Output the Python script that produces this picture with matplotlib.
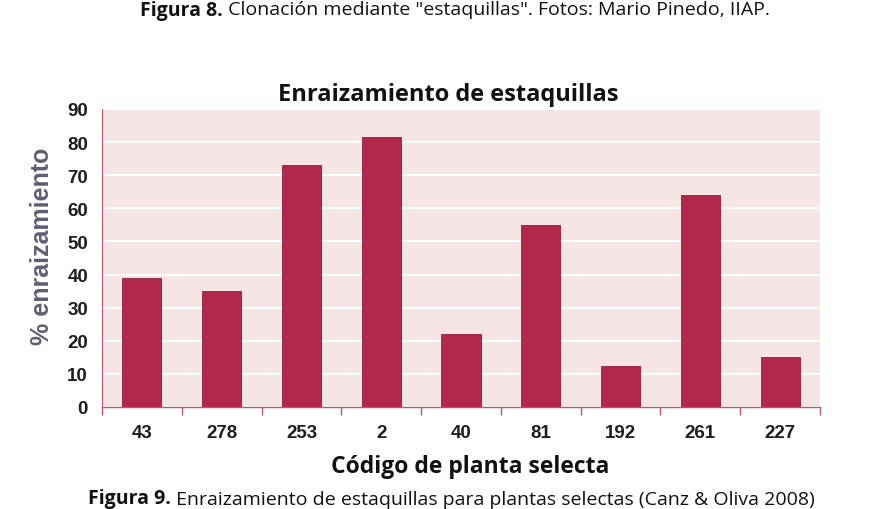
import matplotlib.pyplot as plt
import numpy as np

# datos
codigos = ['43', '278', '253', '2', '40', '81', '192', '261', '227']
enraizamiento = [39, 35, 73, 81.5, 22, 55, 12.5, 64, 15]
y_ticks = [0, 10, 20, 30, 40, 50, 60, 70, 80, 90]

titulo = 'Enraizamiento de estaquillas'
xlabel = 'Código de planta selecta'
ylabel = '% enraizamiento'
cap_top = ('Figura 8.', ' Clonación mediante "estaquillas". Fotos: Mario Pinedo, IIAP.')
cap_bot = ('Figura 9.', ' Enraizamiento de estaquillas para plantas selectas (Canz & Oliva 2008)')

bar_color = '#b1284c'
bg_color = '#f6e5e5'
spine_color = '#c0566e'

fig = plt.figure(figsize=(8.73, 5.10), dpi=100)
ax = fig.add_axes([102 / 873, 1 - 408 / 510, (820 - 102) / 873, (408 - 110) / 510])
ax.set_facecolor(bg_color)

x = np.arange(len(codigos))
ax.bar(x, enraizamiento, width=0.49, color=bar_color, edgecolor='#8f1d3b',
       linewidth=0.6, zorder=3)

ax.set_xlim(-0.5, len(codigos) - 0.5)
ax.set_ylim(0, 90)
ax.set_yticks(y_ticks)
ax.set_yticklabels([str(v) for v in y_ticks], fontfamily='Liberation Sans',
                   fontweight='bold', fontsize=13.5, color='#1e1e1e')
ax.yaxis.grid(True, color='white', linewidth=1.4, zorder=1)
ax.tick_params(axis='y', length=0, pad=10)

# ticks en los limites de categoria, etiquetas en el centro
ax.set_xticks(np.arange(len(codigos) + 1) - 0.5)
ax.set_xticklabels([])
ax.set_xticks(x, minor=True)
ax.set_xticklabels(codigos, minor=True, fontfamily='Liberation Sans',
                   fontweight='bold', fontsize=13.5, color='#1e1e1e')
ax.tick_params(axis='x', which='major', length=6, color=spine_color, width=1)
ax.tick_params(axis='x', which='minor', length=0, pad=12)

for s in ['top', 'right']:
    ax.spines[s].set_visible(False)
ax.spines['left'].set_color(spine_color)
ax.spines['bottom'].set_color(spine_color)
ax.spines['left'].set_linewidth(0.8)
ax.spines['bottom'].set_linewidth(1.0)

fig.text(448 / 873, 1 - 95 / 510, titulo, ha='center', va='center',
         fontfamily='Open Sans', fontweight='bold', fontsize=17, color='#111111')
fig.text(470 / 873, 1 - 467 / 510, xlabel, ha='center', va='center',
         fontfamily='Open Sans', fontweight='bold', fontsize=16.5, color='#111111')
fig.text(42 / 873, 1 - 246 / 510, ylabel, ha='center', va='center', rotation=90,
         fontfamily='Liberation Sans', fontweight='bold', fontsize=18, color='#5d6074')

# pies de figura (en el original quedan cortados por el borde)
fig.canvas.draw()
r = fig.canvas.get_renderer()
for (b, rest), x0, y0, va in [(cap_top, 140, 1, 'top'), (cap_bot, 88, 509, 'bottom')]:
    t = fig.text(x0 / 873, 1 - y0 / 510, b, ha='left', va=va,
                 fontfamily='Open Sans', fontweight='bold', fontsize=14, color='#111111')
    w = t.get_window_extent(renderer=r).width
    fig.text((x0 + w) / 873, 1 - y0 / 510, rest, ha='left', va=va,
             fontfamily='Open Sans', fontsize=14, color='#111111')

fig.savefig('out.png', dpi=100)
